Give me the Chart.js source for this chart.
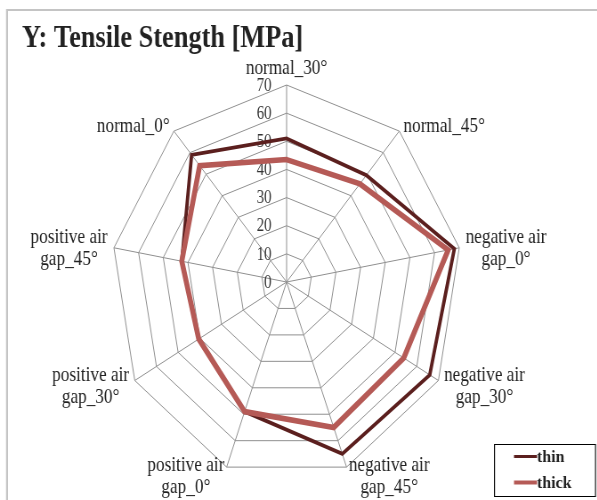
<!DOCTYPE html>
<html>
<head>
<meta charset="utf-8">
<script src="https://cdn.jsdelivr.net/npm/chart.js@4/dist/chart.umd.min.js"></script>
<style>
html,body{margin:0;padding:0;background:#fff;overflow:hidden;}
#wrap{width:671px;height:500px;position:relative;transform:scaleX(0.89);transform-origin:0 0;}
</style>
</head>
<body>
<div id="wrap"><canvas id="c"></canvas></div>
<script>
const titleText = 'Y: Tensile Stength [MPa]';
const categories = [
  ['normal_30°'],
  ['normal_45°'],
  ['negative air', 'gap_0°'],
  ['negative air', 'gap_30°'],
  ['negative air', 'gap_45°'],
  ['positive air', 'gap_0°'],
  ['positive air', 'gap_30°'],
  ['positive air', 'gap_45°'],
  ['normal_0°']
];
const seriesNames = ['thin', 'thick'];
const thinValues  = [51, 49.5, 68, 66, 65, 49, 40.5, 42.5, 59];
const thickValues = [43.5, 45.5, 65.5, 54, 55, 49, 40.5, 42.5, 54];
const tickValues = [0, 10, 20, 30, 40, 50, 60, 70];

const F = 0.89; // horizontal squeeze applied to the canvas by CSS
const COLORS = ['#5b1f1e', '#b55a56'];
const WIDTHS = [3.8, 5.6];
const SERIF = '"Liberation Serif", "Times New Roman", serif';
const SX = 0.82;

function drawText(ctx, text, x, y, align, sx) {
  ctx.save();
  ctx.translate(x, y);
  ctx.scale(sx, 1);
  ctx.textAlign = align;
  ctx.fillText(text, 0, 0);
  ctx.restore();
}

const decorPlugin = {
  id: 'decor',
  beforeDatasetsDraw(chart) {
    const ctx = chart.ctx;
    const r = chart.scales.r;
    ctx.save();
    ctx.scale(1 / F, 1);
    ctx.fillStyle = '#333';
    ctx.font = '18px ' + SERIF;
    ctx.textBaseline = 'middle';
    tickValues.forEach(v => {
      const d = r.getDistanceFromCenterForValue(v);
      drawText(ctx, String(v), r.xCenter * F - 15, r.yCenter - d + 1, 'right', SX);
    });
    ctx.restore();
  },
  afterDraw(chart) {
    const ctx = chart.ctx;
    const r = chart.scales.r;
    const n = categories.length;
    ctx.save();
    ctx.scale(1 / F, 1);
    // frame
    ctx.strokeStyle = '#c4c4c4';
    ctx.lineWidth = 2;
    ctx.strokeRect(7, 10, 600, 500);
    // title
    ctx.fillStyle = '#222';
    ctx.font = 'bold 32px ' + SERIF;
    ctx.textBaseline = 'alphabetic';
    drawText(ctx, titleText, 22, 47, 'left', 0.823);
    // point labels
    ctx.font = '21px ' + SERIF;
    ctx.textBaseline = 'middle';
    ctx.fillStyle = '#222';
    const lh = 22;
    for (let i = 0; i < n; i++) {
      const lines = categories[i];
      const q = r.getPointPositionForValue(i, r.max);
      const px = q.x * F, py = q.y;
      const a = i * 2 * Math.PI / n;
      const s = Math.sin(a), c = Math.cos(a);
      let bw = 0;
      lines.forEach(t => { bw = Math.max(bw, ctx.measureText(t).width * SX); });
      let cx, cy;
      if (Math.abs(s) < 0.01) {
        cx = px;
        cy = py - 17 - (lines.length - 1) * lh;
      } else {
        const off = 6.5 * Math.abs(s);
        cx = s > 0 ? px + off + bw / 2 : px - off - bw / 2;
        cy = py - 8 * c + 2 - (lines.length - 1) * lh / 2;
      }
      lines.forEach((t, k) => drawText(ctx, t, cx, cy + k * lh, 'center', SX));
    }
    // legend
    ctx.strokeStyle = '#000';
    ctx.lineWidth = 1;
    ctx.strokeRect(494.5, 444.5, 101, 52);
    ctx.font = 'bold 16px ' + SERIF;
    ctx.textBaseline = 'middle';
    seriesNames.forEach((name, k) => {
      const y = 456.5 + k * 26;
      ctx.strokeStyle = COLORS[k];
      ctx.lineWidth = k === 0 ? 3 : 4;
      ctx.beginPath();
      ctx.moveTo(514, y);
      ctx.lineTo(537, y);
      ctx.stroke();
      ctx.fillStyle = '#222';
      ctx.textAlign = 'left';
      ctx.fillText(name, 537, y + 1);
    });
    ctx.restore();
  }
};

new Chart(document.getElementById('c'), {
  type: 'radar',
  data: {
    labels: categories,
    datasets: [
      { label: seriesNames[0], data: thinValues, borderColor: COLORS[0], borderWidth: WIDTHS[0], order: 1 },
      { label: seriesNames[1], data: thickValues, borderColor: COLORS[1], borderWidth: WIDTHS[1], order: 0 }
    ].map(d => Object.assign(d, { fill: false, pointRadius: 0, pointHoverRadius: 0, tension: 0, borderJoinStyle: 'miter', backgroundColor: 'transparent' }))
  },
  options: {
    responsive: true,
    maintainAspectRatio: false,
    animation: false,
    layout: { padding: { left: 125, top: 85, right: 152, bottom: 21 } },
    plugins: { legend: { display: false }, title: { display: false }, tooltip: { enabled: false } },
    scales: {
      r: {
        min: 0, max: 70,
        startAngle: 0,
        ticks: { display: false, stepSize: 10 },
        pointLabels: { display: false },
        grid: { color: '#8f8f8f', lineWidth: 1, circular: false },
        angleLines: { color: '#8f8f8f', lineWidth: 1 }
      }
    }
  },
  plugins: [decorPlugin]
});
</script>
</body>
</html>
